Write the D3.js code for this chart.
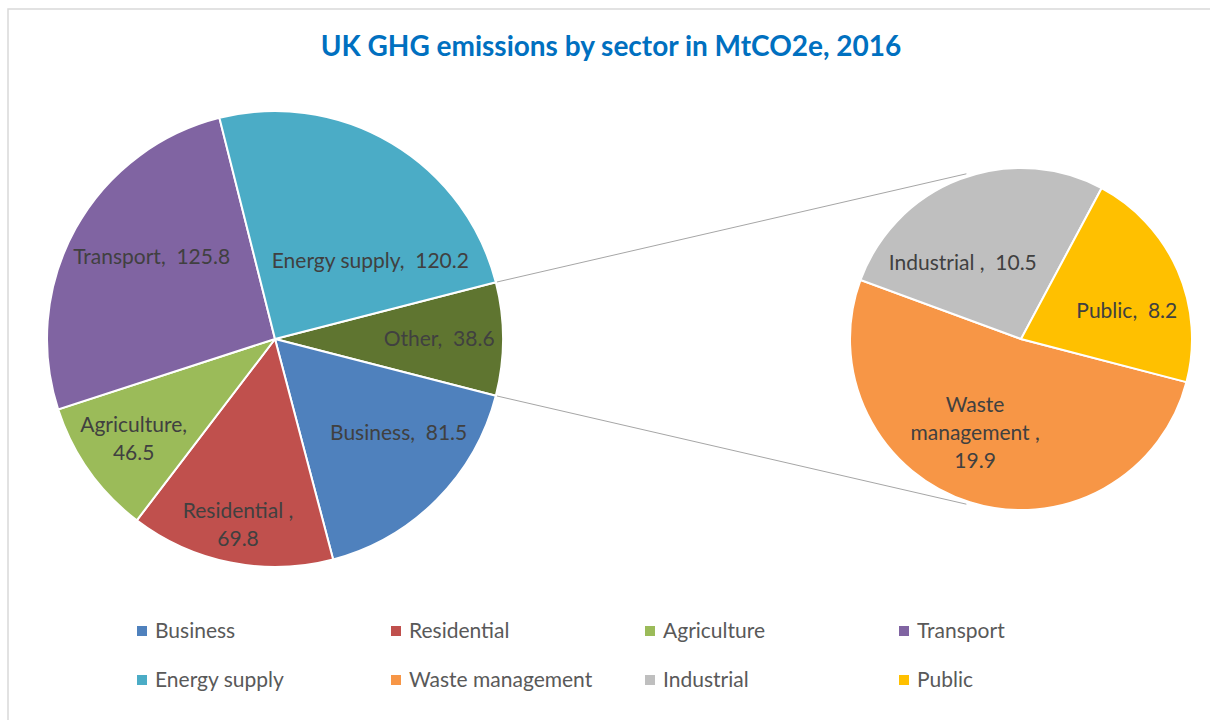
<!DOCTYPE html>
<html>
<head>
<meta charset="utf-8">
<script src="https://cdn.jsdelivr.net/npm/d3@7"></script>
<style>
  body { margin: 0; background: #fff; }
  text { font-family: Lato, "Open Sans", sans-serif; white-space: pre; }
</style>
</head>
<body>
<svg id="chart" width="1210" height="720"></svg>
<script>
// main pie, clockwise from the "Other" slice
var mainCategories = ["Other", "Business", "Residential", "Agriculture", "Transport", "Energy supply"];
var mainValues = [38.6, 81.5, 69.8, 46.5, 125.8, 120.2];
var mainLabelLines = [["Other,  38.6"], ["Business,  81.5"], ["Residential ,", "69.8"],
                      ["Agriculture,", "46.5"], ["Transport,  125.8"], ["Energy supply,  120.2"]];

// secondary pie (breakdown of "Other")
var subCategories = ["Waste management", "Industrial", "Public"];
var subValues = [19.9, 10.5, 8.2];
var subLabelLines = [["Waste", "management ,", "19.9"], ["Industrial ,  10.5"], ["Public,  8.2"]];

var legendLabels = ["Business", "Residential", "Agriculture", "Transport",
                    "Energy supply", "Waste management", "Industrial", "Public"];

var colors = {
    "Business": "#4f81bd", "Residential": "#c0504d", "Agriculture": "#9bbb59",
    "Transport": "#8064a2", "Energy supply": "#4bacc6", "Other": "#5f7530",
    "Waste management": "#f79646", "Industrial": "#bfbfbf", "Public": "#ffc000"
};

// label placement: distance as share of radius, angular nudge in degrees
var mainLabelRadius = [0.72, 0.68, 0.83, 0.76, 0.65, 0.54];
var mainLabelNudge = [0, -7.7, 0, 0, 4.7, 20];
var subLabelRadius = [0.61, 0.56, 0.64];
var subLabelNudge = [8.7, -16.6, 8.8];

var svg = d3.select("#chart");
var rad = Math.PI / 180;

// chart frame
svg.append("path")
    .attr("d", "M8,720 V9 H1210")
    .attr("fill", "none")
    .attr("stroke", "#d9d9d9")
    .attr("stroke-width", 1.5);

svg.append("text")
    .attr("x", 611)
    .attr("y", 56)
    .attr("text-anchor", "middle")
    .attr("font-size", 28)
    .attr("font-weight", "bold")
    .attr("fill", "#0070c0")
    .text("UK GHG emissions by sector in MtCO2e, 2016");

var main = {cx: 275, cy: 339, r: 228};
var sub = {cx: 1021, cy: 339, r: 171};

// "Other" slice centred on 3 o'clock
var otherSpan = mainValues[0] / d3.sum(mainValues) * 2 * Math.PI;
var mainStart = Math.PI / 2 - otherSpan / 2;

var mainArcs = d3.pie().sort(null)
    .startAngle(mainStart).endAngle(mainStart + 2 * Math.PI)(mainValues);
var subStart = 104.6 * rad;
var subArcs = d3.pie().sort(null)
    .startAngle(subStart).endAngle(subStart + 2 * Math.PI)(subValues);

// connector lines between the "Other" slice and the second pie
var connAngle = 18.3 * rad;
var conn = [
    [mainArcs[0].startAngle, -connAngle],
    [mainArcs[0].endAngle, Math.PI + connAngle]
];
svg.selectAll(".connector")
    .data(conn)
    .enter()
    .append("line")
    .attr("class", "connector")
    .attr("x1", function(d){ return main.cx + (main.r + 1) * Math.sin(d[0]); })
    .attr("y1", function(d){ return main.cy - (main.r + 1) * Math.cos(d[0]); })
    .attr("x2", function(d){ return sub.cx + (sub.r + 3) * Math.sin(d[1]); })
    .attr("y2", function(d){ return sub.cy - (sub.r + 3) * Math.cos(d[1]); })
    .attr("stroke", "#a6a6a6")
    .attr("stroke-width", 1);

function drawPie(p, arcs, cats, lines, ratios, nudges) {
    var g = svg.append("g").attr("transform", "translate(" + p.cx + "," + p.cy + ")");
    var arc = d3.arc().innerRadius(0).outerRadius(p.r);

    g.selectAll("path")
        .data(arcs)
        .enter()
        .append("path")
        .attr("d", arc)
        .attr("fill", function(d, i){ return colors[cats[i]]; })
        .attr("stroke", "#fff")
        .attr("stroke-width", 2);

    g.selectAll("text")
        .data(arcs)
        .enter()
        .append("text")
        .attr("text-anchor", "middle")
        .attr("font-size", 21)
        .attr("fill", "#404040")
        .attr("transform", function(d, i){
            var a = (d.startAngle + d.endAngle) / 2 + nudges[i] * rad;
            var rr = p.r * ratios[i];
            return "translate(" + (rr * Math.sin(a)) + "," + (-rr * Math.cos(a)) + ")";
        })
        .each(function(d, i){
            var t = d3.select(this);
            var n = lines[i].length;
            lines[i].forEach(function(s, k){
                t.append("tspan")
                    .attr("x", 0)
                    .attr("y", (k - (n - 1) / 2) * 28 + 7)
                    .text(s);
            });
        });
}

drawPie(main, mainArcs, mainCategories, mainLabelLines, mainLabelRadius, mainLabelNudge);
drawPie(sub, subArcs, subCategories, subLabelLines, subLabelRadius, subLabelNudge);

// legend: 4 columns, 2 rows
var legend = svg.append("g").selectAll("g")
    .data(legendLabels)
    .enter()
    .append("g")
    .attr("transform", function(d, i){
        return "translate(" + (137 + (i % 4) * 254) + "," + (631 + Math.floor(i / 4) * 49) + ")";
    });

legend.append("rect")
    .attr("x", 0).attr("y", -5)
    .attr("width", 10).attr("height", 10)
    .attr("fill", function(d){ return colors[d]; });

legend.append("text")
    .attr("x", 18)
    .attr("y", 7)
    .attr("font-size", 21)
    .attr("fill", "#595959")
    .text(function(d){ return d; });
</script>
</body>
</html>
